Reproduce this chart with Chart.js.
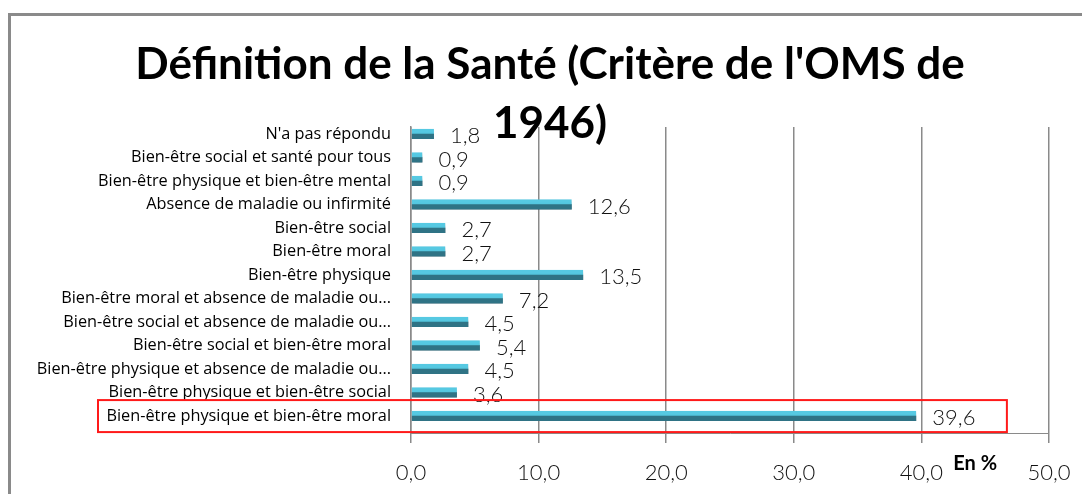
<!DOCTYPE html>
<html><head><meta charset="utf-8">
<script src="https://cdn.jsdelivr.net/npm/chart.js@4.4.1/dist/chart.umd.min.js"></script>
<style>
html,body{margin:0;padding:0;background:#fff;}
#wrap{position:relative;width:1082px;height:494px;overflow:hidden;background:#fff;}
#frame{position:absolute;left:8px;top:13px;width:1100px;height:540px;border:3px solid #8a8a8a;box-sizing:border-box;}
canvas{position:absolute;left:0;top:0;}
</style></head><body>
<div id="wrap"><div id="frame"></div><canvas id="c" width="1082" height="494"></canvas></div>
<script>
const categories = [
  "N'a pas répondu",
  "Bien-être social et santé pour tous",
  "Bien-être physique et bien-être mental",
  "Absence de maladie ou infirmité",
  "Bien-être social",
  "Bien-être moral",
  "Bien-être physique",
  "Bien-être moral et absence de maladie ou...",
  "Bien-être social et absence de maladie ou...",
  "Bien-être social et bien-être moral",
  "Bien-être physique et absence de maladie ou...",
  "Bien-être physique et bien-être social",
  "Bien-être physique et bien-être moral"
];
const values = [1.8, 0.9, 0.9, 12.6, 2.7, 2.7, 13.5, 7.2, 4.5, 5.4, 4.5, 3.6, 39.6];
const xTicks = [0, 10, 20, 30, 40, 50];
const titleLines = ["Définition de la Santé (Critère de l'OMS de", "1946)"];
const axisUnit = "En %";
const highlightIndex = 12;

const fmt = v => v.toFixed(1).replace('.', ',');
const GRID = '#8a8a8a';

const shadowPlugin = {
  id: 'barShadow',
  beforeDatasetsDraw(chart) {
    const ctx = chart.ctx;
    ctx.save();
    ctx.shadowColor = 'rgba(0,0,0,0.35)';
    ctx.shadowBlur = 4;
    ctx.shadowOffsetX = 2;
    ctx.shadowOffsetY = 3;
  },
  afterDatasetsDraw(chart) {
    chart.ctx.restore();
    const ctx = chart.ctx;
    const meta = chart.getDatasetMeta(0);
    ctx.save();
    ctx.font = '300 22px Lato, "Open Sans", sans-serif';
    ctx.fillStyle = '#111';
    ctx.textAlign = 'left';
    ctx.textBaseline = 'middle';
    meta.data.forEach((el, i) => {
      ctx.fillText(fmt(values[i]), el.x + 16, el.y + 2);
    });
    ctx.restore();
  },
  afterDraw(chart) {
    const ctx = chart.ctx;
    const xs = chart.scales.x, ys = chart.scales.y;
    ctx.save();
    const yc = ys.getPixelForValue(highlightIndex);
    const left = 98, right = xs.getPixelForValue(46.7);
    ctx.strokeStyle = '#ff1a1a';
    ctx.lineWidth = 2;
    ctx.strokeRect(left, yc - 16, right - left, 32);
    ctx.font = 'bold 20px Lato, "Open Sans", sans-serif';
    ctx.fillStyle = '#000';
    ctx.textAlign = 'left';
    ctx.textBaseline = 'middle';
    ctx.fillText(axisUnit, xs.getPixelForValue(42.5), xs.top + 31);
    ctx.restore();
  }
};

const noPad = s => { s.paddingTop = 0; s.paddingBottom = 0; s.paddingLeft = 0; s.paddingRight = 0; };

new Chart(document.getElementById('c'), {
  type: 'bar',
  data: {
    datasets: [{
      data: values.map((v, i) => ({x: v, y: i})),
      backgroundColor: '#2f7385',
      borderColor: '#56c9e2',
      borderWidth: {top: 5, right: 0, bottom: 0, left: 0},
      borderSkipped: false,
      barThickness: 10
    }]
  },
  plugins: [shadowPlugin],
  options: {
    indexAxis: 'y',
    responsive: false,
    devicePixelRatio: 1,
    animation: false,
    layout: {padding: {left: 18, right: 0, top: 0, bottom: 0}},
    plugins: {
      legend: {display: false},
      tooltip: {enabled: false},
      title: {
        display: true,
        text: titleLines,
        color: '#000',
        font: {family: 'Lato, "Open Sans", sans-serif', weight: 'bold', size: 44, lineHeight: 1.33},
        padding: {top: 36, bottom: -26}
      }
    },
    scales: {
      x: {
        type: 'linear',
        position: 'bottom',
        min: 0, max: 50,
        afterBuildTicks: s => { s.ticks = xTicks.map(v => ({value: v})); },
        afterFit: s => { s.height = 61; noPad(s); },
        ticks: {
          callback: v => fmt(v),
          color: '#111',
          font: {family: 'Lato, "Open Sans", sans-serif', weight: '300', size: 22},
          padding: 17,
          maxRotation: 0
        },
        grid: {color: GRID, lineWidth: 1.5, tickLength: 10, drawTicks: true},
        border: {display: true, color: GRID, width: 1}
      },
      y: {
        type: 'linear',
        reverse: true,
        offset: false,
        min: -0.3, max: 12.72,
        afterBuildTicks: s => { s.ticks = categories.map((_, i) => ({value: i})); },
        afterFit: s => { s.width = 393; noPad(s); },
        ticks: {
          callback: v => categories[v] ?? '',
          color: '#000',
          font: {family: '"Open Sans", Lato, sans-serif', size: 16.3},
          padding: 20,
          autoSkip: false
        },
        grid: {display: false, drawTicks: false, offset: false},
        border: {display: true, color: GRID, width: 1.5}
      },
      spacer: {
        type: 'linear',
        position: 'right',
        display: true,
        afterFit: s => { s.width = 33; noPad(s); },
        ticks: {display: false},
        grid: {display: false, drawTicks: false},
        border: {display: false}
      }
    }
  }
});
</script>
</body></html>
